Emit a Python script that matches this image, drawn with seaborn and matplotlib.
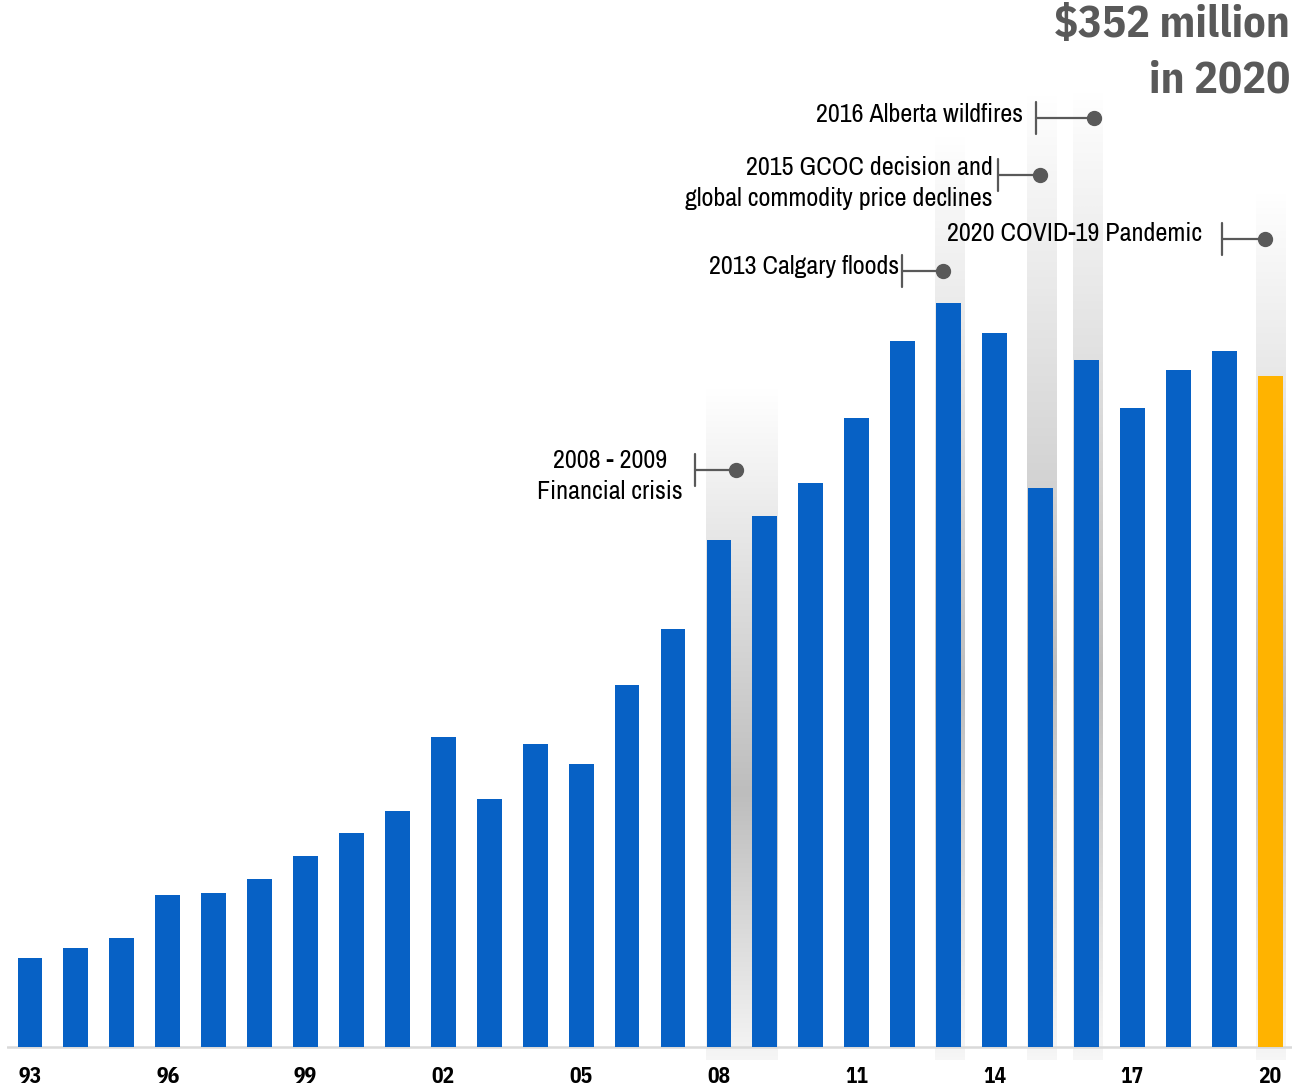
import numpy as np
import pandas as pd
import seaborn as sns
import matplotlib.pyplot as plt
from matplotlib.colors import LinearSegmentedColormap

#%% Data
years = list(range(1993, 2021))
losses = [46.7, 51.9, 57.2, 79.7, 80.8, 88.1, 100.2, 112.3, 123.8, 162.6,
          130.1, 159.0, 148.5, 189.9, 219.3, 266.0, 278.6, 295.9, 330.0, 370.4,
          390.3, 374.6, 293.3, 360.4, 335.2, 355.2, 365.2, 352.0]
tick_years = years[::3]
tick_labels = [f"{y % 100:02d}" for y in tick_years]

event_labels = ["2008 - 2009\nFinancial crisis",
                "2013 Calgary floods",
                "2015 GCOC decision and\nglobal commodity price declines",
                "2016 Alberta wildfires",
                "2020 COVID-19 Pandemic"]
event_years = [(2008, 2009), (2013, 2013), (2015, 2015), (2016, 2016), (2020, 2020)]
headline = "$352 million\nin 2020"

#%% Layout helpers (pixel -> data)
UNIT = 352.0 / 671
X0, STEP = 30, 45.93
def dx(px):
    return (px - X0) / STEP
def dy(py):
    return (1047 - py) * UNIT

blue = "#0761C5"
gold = "#FFB300"
dark = "#595959"
bold_font = ['IBM Plex Sans Condensed', 'DejaVu Sans']

band_top = [390, 132, 90, 88, 190]
dot_xy = [(736, 470), (943, 271), (1040, 175), (1094, 118), (1265, 239)]
tick_x = [695, 902, 998, 1036, 1222]
text_xy = [(610, 476), (899, 266), (993, 183), (1023, 115), (1202, 234)]
text_ha = ["center", "right", "right", "right", "right"]

#%% Plot
sns.set_theme(style="white")
plt.rcParams['font.family'] = ['Archivo Narrow', 'DejaVu Sans']
plt.rcParams['font.stretch'] = 'condensed'

fig = plt.figure(figsize=(12.92, 10.85), dpi=100)
ax = fig.add_axes([7 / 1292, 25 / 1085, 1285 / 1292, 1060 / 1085])

df = pd.DataFrame({"year": [str(y) for y in years], "value": losses})
colors = [blue] * (len(years) - 1) + [gold]
sns.barplot(data=df, x="year", y="value", hue="year", palette=colors, legend=False,
            width=0.54, saturation=1, linewidth=0, ax=ax, zorder=3)

# shaded bands behind the event years
cmap = LinearSegmentedColormap.from_list("band", [(0, "#ffffff"), (0.6, "#bdbdbd"), (1, "#f6f6f6")])
grad = np.linspace(0, 1, 256).reshape(-1, 1)
for (y0, y1), top in zip(event_years, band_top):
    i0, i1 = years.index(y0), years.index(y1)
    if y0 == y1:
        left, right = i0 - 0.3, i1 + 0.35
    else:
        left, right = i0 - 0.28, i1 + 0.27
    ax.imshow(grad, cmap=cmap, aspect="auto", extent=[left, right, dy(1062), dy(top)],
              origin="upper", interpolation="bicubic", zorder=1)

# event callouts
for lab, (px, py), tx, (lx, ly), ha in zip(event_labels, dot_xy, tick_x, text_xy, text_ha):
    ax.plot([dx(tx), dx(px)], [dy(py), dy(py)], color=dark, lw=1.6, zorder=5)
    ax.plot([dx(tx), dx(tx)], [dy(py - 16), dy(py + 16)], color=dark, lw=1.6, zorder=5)
    ax.plot(dx(px), dy(py), "o", color=dark, ms=10, zorder=6)
    ax.text(dx(lx), dy(ly), lab, ha=ha, va="center", fontsize=18.8, color="black",
            multialignment=ha, linespacing=1.42, zorder=6)

ax.axhline(0, color="#d9d9d9", lw=1.8, zorder=2)
ax.set_xlim(-0.5, dx(1292))
ax.set_ylim(dy(1060), dy(0))
ax.set_xticks([years.index(y) for y in tick_years])
ax.set_xticklabels(tick_labels, fontsize=15.5, fontweight="bold", color="black",
                   family=bold_font)
ax.tick_params(axis="x", length=0, pad=4)
ax.set_yticks([])
ax.set_xlabel(None)
ax.set_ylabel(None)
for s in ax.spines.values():
    s.set_visible(False)

fig.text(1290 / 1292, 1 - 4 / 1085, headline, ha="right", va="top", fontsize=32,
         fontweight="bold", color=dark, linespacing=1.4, family=bold_font)

plt.savefig("out.png", dpi=100)
